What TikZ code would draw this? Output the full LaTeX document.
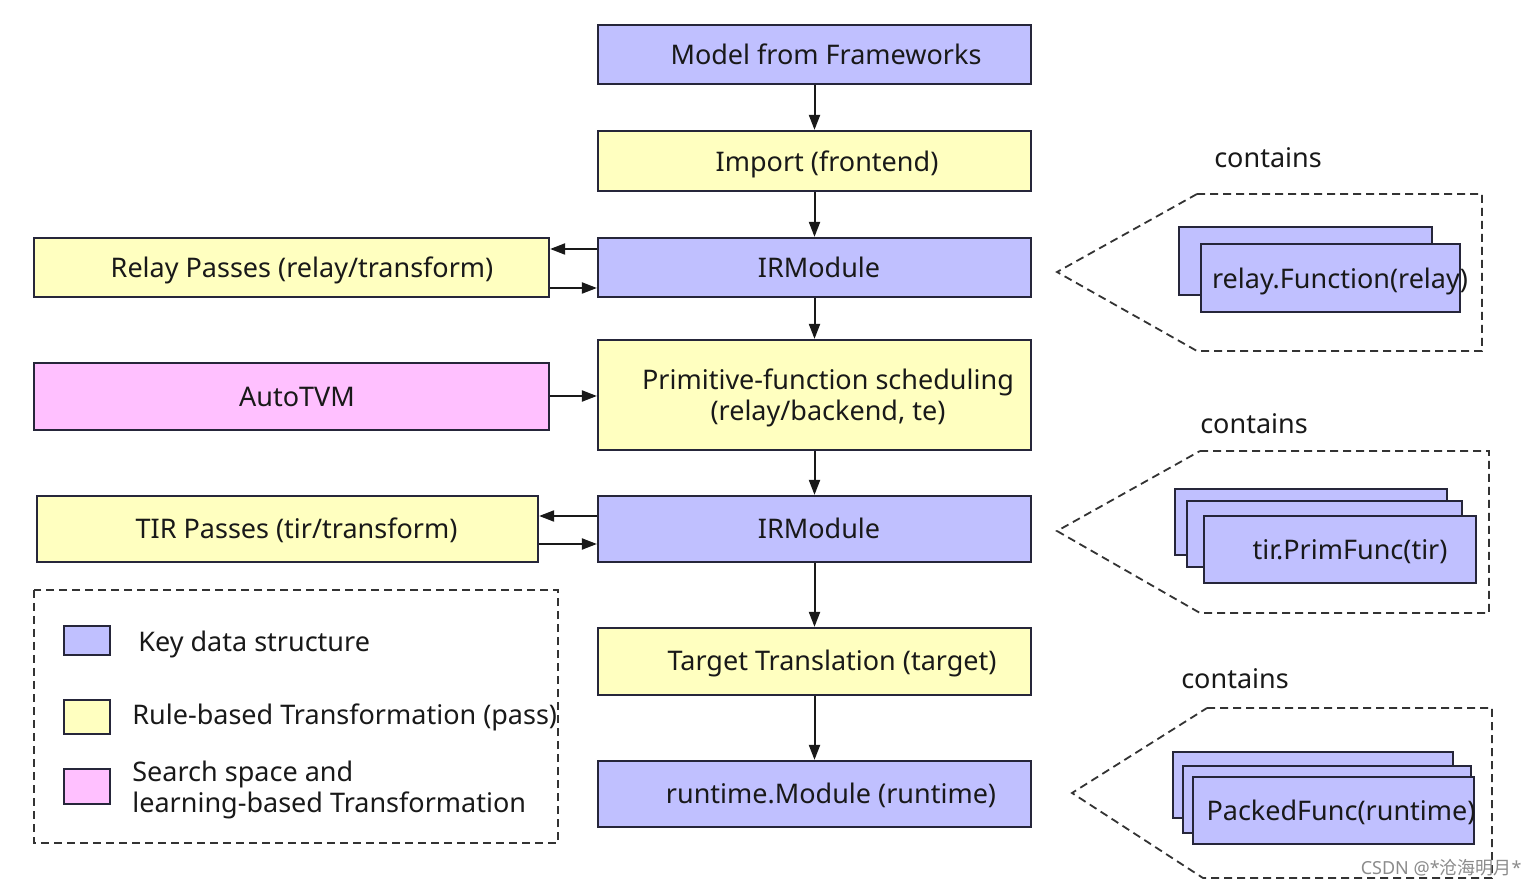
\documentclass[tikz,border=0pt]{standalone}
\usepackage{fontspec}
\setmainfont{Noto Sans}
\newfontfamily\cjk{Noto Sans CJK SC}
\usetikzlibrary{arrows.meta,fit}
\definecolor{kblue}{HTML}{C0C0FF}
\definecolor{kyellow}{HTML}{FFFFC0}
\definecolor{kpink}{HTML}{FFC0FF}
\definecolor{edge}{HTML}{26263A}
\begin{document}
\begin{tikzpicture}[x=0.5pt,y=-0.5pt,
  box/.style={draw=edge, line width=1.1pt, inner sep=0pt},
  bluebox/.style={box, fill=kblue},
  yellowbox/.style={box, fill=kyellow},
  pinkbox/.style={box, fill=kpink},
  txt/.style={font=\fontsize{13.5}{15.5}\selectfont, inner sep=0pt, align=center, text=black!90, text height=9.6pt, text depth=0pt},
  ltxt/.style={txt, anchor=west, align=left},
  arr/.style={-{Triangle[length=7.5pt,width=5.5pt]}, line width=1pt, draw=black!90},
  dbox/.style={dash pattern=on 4pt off 2.5pt, line width=0.9pt, draw=black!80}
]
\useasboundingbox (0,0) rectangle (1538,887);
\fill[white] (0,0) rectangle (1538,887);

% main column
\node[bluebox, fit={(598,25)(1031,84)}] (model) {};
\node[txt] (tmodel) at (826,55) {Model from Frameworks};
\node[yellowbox, fit={(598,131)(1031,191)}] (import) {};
\node[txt] (timport) at (827,162) {Import (frontend)};
\node[bluebox, fit={(598,238)(1031,297)}] (ir1) {};
\node[txt] (tir1) at (819,268) {IRModule};
\node[yellowbox, fit={(598,340)(1031,450)}] (prim) {};
\node[txt] (tprim) at (828,411) {Primitive-function scheduling\\(relay/backend, te)};
\node[bluebox, fit={(598,496)(1031,562)}] (ir2) {};
\node[txt] (tir2) at (819,529) {IRModule};
\node[yellowbox, fit={(598,628)(1031,695)}] (target) {};
\node[txt] (ttarget) at (832,661) {Target Translation (target)};
\node[bluebox, fit={(598,761)(1031,827)}] (rt) {};
\node[txt] (trt) at (831,794) {runtime.Module (runtime)};

% left column
\node[yellowbox, fit={(34,238)(549,297)}] (relay) {};
\node[txt] (trelay) at (302,268) {Relay Passes (relay/transform)};
\node[pinkbox, fit={(34,363)(549,430)}] (autotvm) {};
\node[txt] (tautotvm) at (297,397) {AutoTVM};
\node[yellowbox, fit={(37,496)(538,562)}] (tirp) {};
\node[txt] (ttirp) at (296.5,529) {TIR Passes (tir/transform)};

% arrows
\draw[arr] (model) -- (import);
\draw[arr] (import) -- (ir1);
\draw[arr] (ir1) -- (prim);
\draw[arr] (prim) -- (ir2);
\draw[arr] (ir2) -- (target);
\draw[arr] (target) -- (rt);
\draw[arr] (ir1.west |- 0,249) -- (relay.east |- 0,249);
\draw[arr] (relay.east |- 0,288) -- (ir1.west |- 0,288);
\draw[arr] (ir2.west |- 0,516) -- (tirp.east |- 0,516);
\draw[arr] (tirp.east |- 0,544) -- (ir2.west |- 0,544);
\draw[arr] (autotvm.east |- 0,396) -- (prim.west |- 0,396);

% legend
\draw[dbox] (34,590) rectangle (558,843);
\node[bluebox, fit={(64,626)(110,655)}] (lblue) {};
\node[ltxt] (llblue) at (138,642) {Key data structure};
\node[yellowbox, fit={(64,700)(110,734)}] (lyellow) {};
\node[ltxt] (llyellow) at (132,715) {Rule-based Transformation (pass)};
\node[pinkbox, fit={(64,769)(110,804)}] (lpink) {};
\node[ltxt] (llpink) at (132,803) {Search space and\\learning-based Transformation};

% contains 1
\node[txt] (c1) at (1268,158) {contains};
\draw[dbox] (1197,194) -- (1482,194) -- (1482,351) -- (1197,351) -- (1057,272) -- cycle;
\node[bluebox, fit={(1179,227)(1432,295)}] (rf1) {};
\node[bluebox, fit={(1201,244)(1460,312)}] (rf2) {};
\node[txt] (trf) at (1340,279) {relay.Function(relay)};

% contains 2
\node[txt] (c2) at (1254,424) {contains};
\draw[dbox] (1200,451) -- (1489,451) -- (1489,613) -- (1200,613) -- (1057,531) -- cycle;
\node[bluebox, fit={(1175,489)(1447,555)}] (pf1) {};
\node[bluebox, fit={(1187,501)(1462,567)}] (pf2) {};
\node[bluebox, fit={(1204,516)(1476,583)}] (pf3) {};
\node[txt] (tpf) at (1350,550) {tir.PrimFunc(tir)};

% contains 3
\node[txt] (c3) at (1235,679) {contains};
\draw[dbox] (1207,708) -- (1492,708) -- (1492,878) -- (1203,878) -- (1072,793) -- cycle;
\node[bluebox, fit={(1173,752)(1453,818)}] (pk1) {};
\node[bluebox, fit={(1183,766)(1471,833)}] (pk2) {};
\node[bluebox, fit={(1193,777)(1474,844)}] (pk3) {};
\node[txt] (tpk) at (1341,811) {PackedFunc(runtime)};

% watermark
\node[inner sep=0pt, anchor=east, text=black!45, font=\fontsize{9}{10}\selectfont] (wm) at (1522,868) {CSDN @*{\cjk 沧海明月}*};
\end{tikzpicture}
\end{document}
